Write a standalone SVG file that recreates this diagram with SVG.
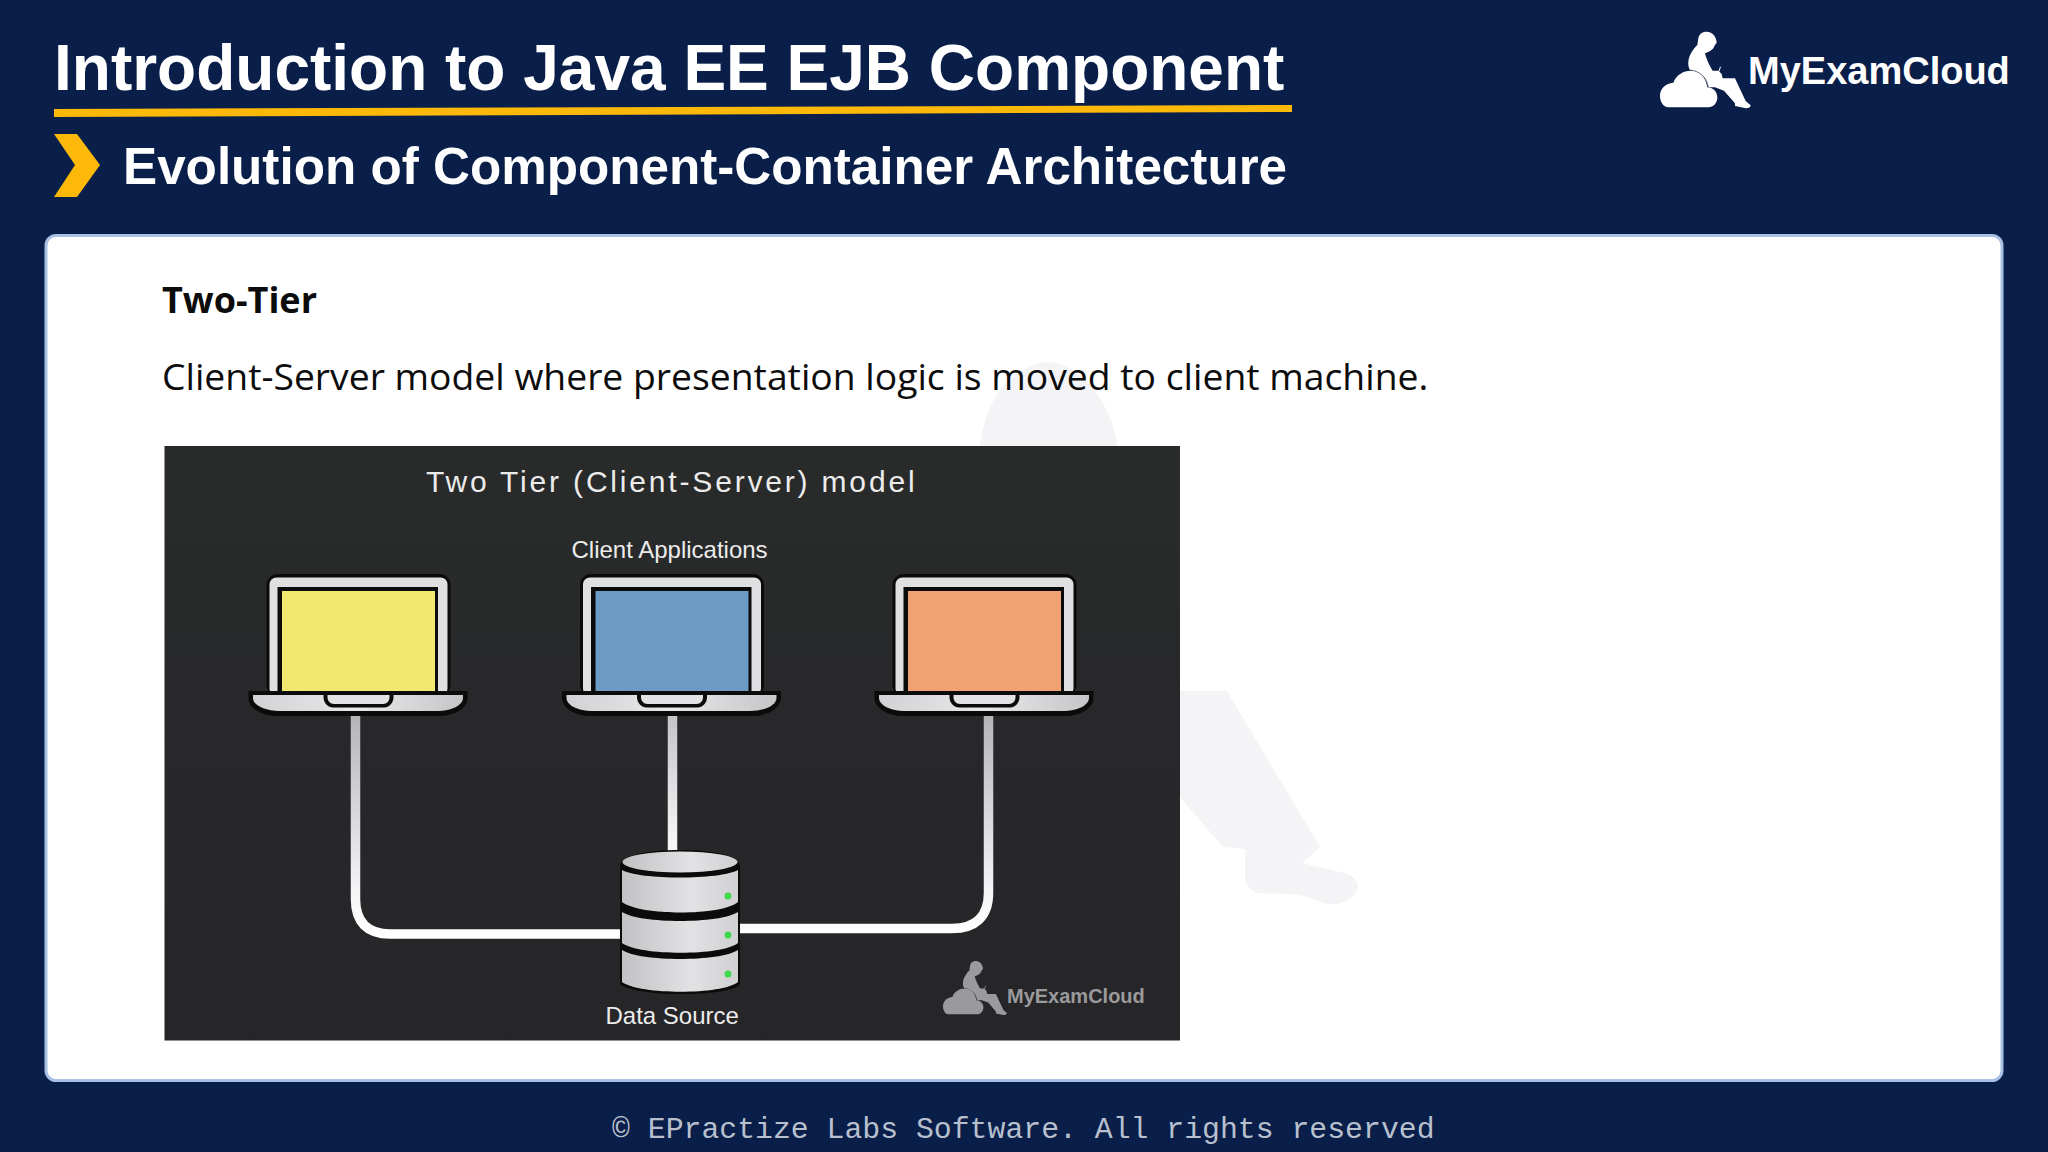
<svg xmlns="http://www.w3.org/2000/svg" xmlns:xlink="http://www.w3.org/1999/xlink" width="2048" height="1152" viewBox="0 0 2048 1152">
<defs>
<style>
text{font-family:"Liberation Sans",Arial,sans-serif}
.hd{fill:#fff;font-weight:700}
.body{font-family:"Open Sans","Noto Sans",sans-serif;fill:#0c0c0c}
.lab{fill:#ececec;font-size:24px}
.wire{fill:none;stroke-width:9.5}
.blk{fill:#0b0b0b}
</style>
<linearGradient id="bg" x1="0" y1="0" x2="0" y2="1"><stop offset="0" stop-color="#292b2b"/><stop offset="1" stop-color="#262528"/></linearGradient>
<linearGradient id="w1" gradientUnits="userSpaceOnUse" x1="0" y1="716" x2="0" y2="934"><stop offset="0" stop-color="#b5b5b8"/><stop offset="0.8" stop-color="#f4f4f6"/><stop offset="1" stop-color="#fff"/></linearGradient>
<linearGradient id="w2" gradientUnits="userSpaceOnUse" x1="0" y1="716" x2="0" y2="852"><stop offset="0" stop-color="#c4c4c8"/><stop offset="1" stop-color="#fafafa"/></linearGradient>
<linearGradient id="base" x1="0" y1="0" x2="1" y2="0"><stop offset="0" stop-color="#d2d2d4"/><stop offset="0.5" stop-color="#e8e8ea"/><stop offset="1" stop-color="#c6c6c8"/></linearGradient>
<linearGradient id="db" x1="0" y1="0" x2="1" y2="0"><stop offset="0" stop-color="#c2c2c4"/><stop offset="0.6" stop-color="#e2e2e4"/><stop offset="1" stop-color="#d0d0d2"/></linearGradient>
<g id="laptop">
<rect x="266.500" y="574" width="184" height="122" rx="11" class="blk"/>
<rect x="269.500" y="577.500" width="178" height="118" rx="7" fill="#e0e0e2"/>
<rect x="277.500" y="587" width="160.500" height="106" class="blk"/>
<path d="M248.500 691H467.500V698C467.500 708 455 716 438 716H278C261 716 248.500 708 248.500 698Z" class="blk"/>
<path d="M253 695H463V698C463 705 452 711 436 711H280C264 711 253 705 253 698Z" fill="url(#base)"/>
<path d="M323.500 691H393.500V697C393.500 703 389 707.500 384 707.500H333C328 707.500 323.500 703 323.500 697Z" class="blk"/>
<path d="M327.500 695H389.500V697C389.500 701 387 704 383 704H334C330 704 327.500 701 327.500 697Z" fill="#e2e2e4"/>
</g>
<g id="logo">
<path d="M205 322C190 322 180 305 180 288C180 265 197 250 220 248C228 225 250 212 272 212C300 212 318 232 322 262C338 262 352 275 352 292C352 310 340 322 325 322Z"/>
<path d="M320 95C306 95 297 103 295 115L292 135C280 147 267 165 265 185C264 195 266 203 270 210C290 212 308 222 318 240C322 248 324 255 325 262L345 262L372 272L405 310V318L438 325C446 325 452 321 452 316L437 303L405 235H368L365 222L358 215L363 200H360L356 212H338C330 200 320 180 315 160C325 157 335 152 340 145L345 135L350 128C350 112 338 95 320 95Z"/>
</g>
</defs>
<rect width="2048" height="1152" fill="#091e49"/>
<g id="header">
<text x="54" y="90" class="hd" font-size="64">Introduction to Java EE EJB Component</text>
<polygon points="54,109 1292,105 1292,112 54,117" fill="#fdb90a"/>
<polygon points="54,134 77,134 100,165 77,197 54,197 75,165" fill="#fdb90a"/>
<text x="123" y="184" class="hd" font-size="51.200">Evolution of Component-Container Architecture</text>
</g>
<g id="brand">
<use xlink:href="#logo" href="#logo" transform="translate(1600 0) scale(.3333)" fill="#fff"/>
<path d="M270 210C290 212 308 222 318 240C322 248 324 255 325 262" transform="translate(1600 0) scale(.3333)" fill="none" stroke="#667" stroke-width="2"/>
<text x="1748" y="84" class="hd" font-size="38">MyExamCloud</text>
</g>
<g id="panel">
<rect x="46" y="235.500" width="1956" height="845" rx="10" fill="#fff" stroke="#a9c1e4" stroke-width="3"/>
<g id="watermark" fill="#f4f4f6">
<path d="M980 446C984 410 1000 375 1040 363C1056 359 1075 368 1090 385C1105 402 1115 425 1117 446Z"/>
<path d="M1180 691H1227L1320 847L1302 863L1345 873C1355 876 1358 882 1358 888C1356 896 1345 904 1333 904C1320 904 1310 897 1300 895C1285 893 1270 894 1257 893C1250 890 1245 884 1245 877V849L1223 847L1180 797Z"/>
</g>
<text x="162" y="313" class="body" font-size="36" font-weight="700">Two-Tier</text>
<text x="162" y="390" class="body" font-size="37.300">Client-Server model where presentation logic is moved to client machine.</text>
</g>
<g id="figure">
<rect x="164.500" y="446" width="1015.500" height="594.500" fill="url(#bg)"/>
<text x="426" y="492" fill="#ececec" font-size="30" letter-spacing="2.820">Two Tier (Client-Server) model</text>
<text x="571.500" y="558" class="lab">Client Applications</text>
<text x="605.500" y="1024" class="lab">Data Source</text>
<g id="connectors">
<path class="wire" stroke="url(#w1)" d="M355.500 716V899C355.500 922 367 934 390 934H622"/>
<path class="wire" stroke="url(#w2)" d="M672.500 716V853"/>
<path class="wire" stroke="url(#w1)" d="M988.500 716V893C988.500 917 975 928.500 952 928.500H740"/>
</g>
<g id="laptop1"><use xlink:href="#laptop" href="#laptop"/><rect x="282" y="591" width="153" height="100" fill="#f2e76f"/></g>
<g id="laptop2"><use xlink:href="#laptop" href="#laptop" transform="translate(313.500 0)"/><rect x="595.500" y="591" width="153" height="100" fill="#6e9ac6"/></g>
<g id="laptop3"><use xlink:href="#laptop" href="#laptop" transform="translate(626 0)"/><rect x="908" y="591" width="153" height="100" fill="#f0a273"/></g>
<g id="database">
<path d="M620 866C620 856 645 850 680 850C715 850 740 856 740 866V982C740 986 737 987 731 989C718 993 700 994 680 994C660 994 640 992 628 988C622 986 620 985 620 982Z" class="blk"/>
<path d="M622 870C640 880 720 880 738 870V902C722 916 640 916 622 902Z" fill="url(#db)"/>
<path d="M622 912C640 924 720 924 738 912V943C722 956 640 956 622 943Z" fill="url(#db)"/>
<path d="M622 950C640 962 720 962 738 950V982C722 995 640 995 622 982Z" fill="url(#db)"/>
<ellipse cx="680" cy="862" rx="57.500" ry="10.500" fill="url(#db)"/>
<circle cx="728" cy="896" r="3.500" fill="#3fd84c"/>
<circle cx="728" cy="935" r="3.500" fill="#3fd84c"/>
<circle cx="728" cy="974" r="3.500" fill="#3fd84c"/>
</g>
<g id="figure-brand">
<use xlink:href="#logo" href="#logo" transform="translate(900.700 938.700) scale(.235)" fill="#9a9a9c"/>
<text x="1007" y="1003" font-size="20" font-weight="700" fill="#9a9a9c">MyExamCloud</text>
</g>
</g>
<text id="footer" x="612" y="1138" font-size="29.800" fill="#b8c0ce" style="font-family:'Liberation Mono',monospace">© EPractize Labs Software. All rights reserved</text>
</svg>
